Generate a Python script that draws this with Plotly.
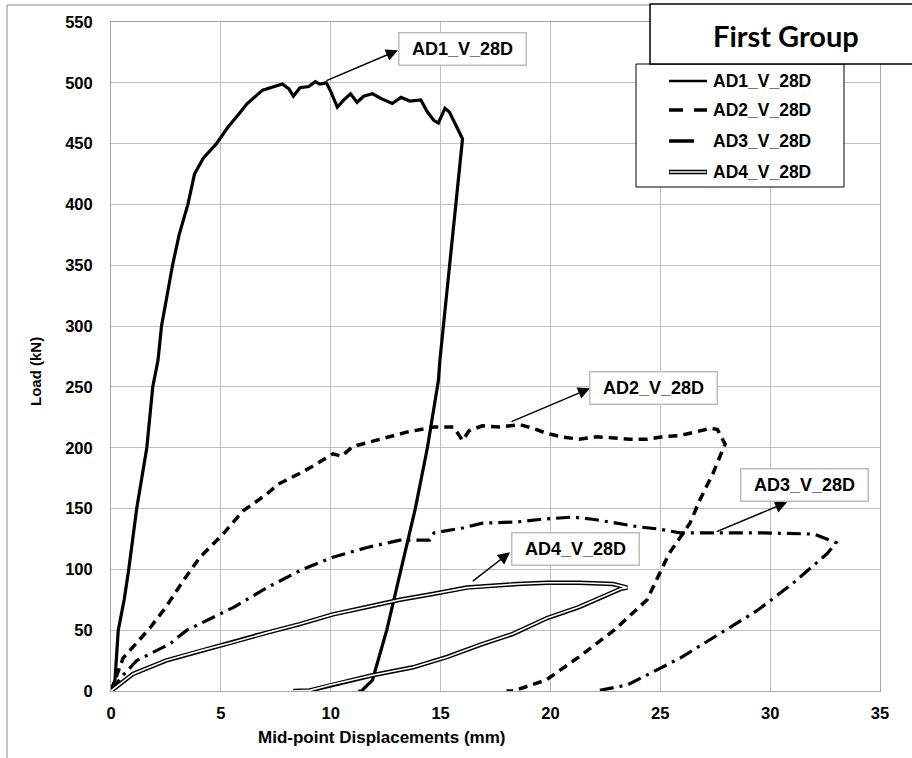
import plotly.graph_objects as go

# ---------------- data ----------------
ad1_x = [0, 0.18, 0.33, 0.6, 0.8, 1.17, 1.63, 1.9, 2.14, 2.3, 2.55, 2.8, 3.1, 3.5, 3.8, 4.2, 4.8, 5.3, 5.8,
         6.2, 6.9, 7.4, 7.8, 8.1, 8.3, 8.6, 9.0, 9.3, 9.5, 9.8, 10.0, 10.3, 10.6, 10.9, 11.2, 11.5, 11.9,
         12.3, 12.8, 13.2, 13.6, 14.1, 14.4, 14.7, 14.9, 15.2, 15.4, 16.0,
         15.69, 15.41, 15.13, 14.97, 14.9, 14.4, 13.85, 13.2, 12.55, 11.9, 11.4, 11.25]
ad1_y = [0, 9, 50, 75, 99, 150, 200, 250, 272, 300, 325, 350, 375, 400, 425, 438, 450, 463, 474,
         483, 494, 497, 499, 495, 489, 496, 497, 501, 499, 500, 493, 480, 486, 491, 484, 489, 491,
         487, 483, 488, 485, 486, 476, 469, 467, 479, 476, 454,
         400, 350, 300, 272, 255, 200, 150, 99, 50, 9, 0, 0]

ad2_x = [0, 0.55, 1.78, 2.5, 3.3, 4.05, 5.1, 6.0, 7.1, 7.6, 8.6, 9.2, 10.1, 10.5, 11.0, 11.8, 12.6, 13.5,
         14.7, 15.6, 16.0, 16.3, 16.9, 17.7, 18.6, 19.2, 19.8, 20.5, 21.3, 22.1, 22.9, 23.6, 24.4, 25.1,
         25.9, 26.4, 26.9, 27.3, 27.6, 27.95, 27.4, 26.8, 26.35, 25.4, 24.4, 22.9, 21.3, 19.8, 18.3, 18.0]
ad2_y = [0, 27, 52, 69, 91, 110, 129, 148, 162, 170, 179, 185, 195, 193, 201, 205, 209, 213,
         217, 217, 206, 214, 218, 217, 219, 216, 212, 209, 207, 209, 208, 207, 207, 209,
         210, 212, 214, 216, 215, 203, 179, 157, 138, 113, 75, 50, 28, 9, 0, 0]

ad3_x = [0, 0.5, 1.17, 2.7, 3.45, 4.65, 5.6, 7.1, 8.6, 10.1, 11.65, 13.15, 14.5, 14.7, 16.0, 16.9, 18.5,
         19.5, 21.0, 22.0, 23.0, 24.0, 25.0, 25.9, 27.6, 29.7, 32.0, 33.0,
         32.6, 31.0, 29.4, 27.4, 25.9, 23.5, 22.1]
ad3_y = [0, 12, 25, 39, 50, 61, 69, 85, 99, 110, 118, 124, 124, 130, 134, 138, 139,
         141, 143, 141, 138, 135, 133, 130, 130, 130, 129, 122,
         113, 88, 66, 44, 27, 5, 0]

ad4_x = [0, 1.0, 2.5, 4.05, 5.55, 7.1, 8.6, 10.1, 11.65, 13.15, 14.7, 16.2, 18.5, 19.85, 21.3, 22.85, 23.5,
         23.2, 21.3, 19.85, 18.3, 16.8, 15.3, 13.75, 11.9, 9.97, 9.05, 8.3]
ad4_y = [0, 14, 25, 33, 40, 48, 55, 63, 69, 75, 80, 85, 88, 89, 89, 88, 85,
         84, 69, 60, 47, 38, 28, 19.5, 13, 5, 0.5, 0]

series_names = ["AD1_V_28D", "AD2_V_28D", "AD3_V_28D", "AD4_V_28D"]

# label boxes (centre) and arrows (tail on curve -> head at box), data coordinates
label_x = [15.98, 24.69, 31.57, 21.12]
label_y = [527.6, 248.9, 169.5, 116.9]
arrow_tail_x = [9.74, 18.16, 27.5, 16.4]
arrow_tail_y = [501.3, 220.9, 130.5, 89.3]
arrow_head_x = [13.06, 21.8, 30.77, 18.16]
arrow_head_y = [526.8, 248.8, 155.2, 114.0]

x_ticks = [0, 5, 10, 15, 20, 25, 30, 35]
y_ticks = [0, 50, 100, 150, 200, 250, 300, 350, 400, 450, 500, 550]

FONT = "Liberation Sans, Arial, sans-serif"

fig = go.Figure()
fig.add_trace(go.Scatter(x=ad1_x, y=ad1_y, mode="lines", name=series_names[0],
                         line=dict(color="black", width=3.2), showlegend=False))
fig.add_trace(go.Scatter(x=ad2_x, y=ad2_y, mode="lines", name=series_names[1],
                         line=dict(color="black", width=3.5, dash="9px,6px"), showlegend=False))
fig.add_trace(go.Scatter(x=ad3_x, y=ad3_y, mode="lines", name=series_names[2],
                         line=dict(color="black", width=3.2, dash="14px,6px,3px,6px"), showlegend=False))
# double line: black outline + white core
fig.add_trace(go.Scatter(x=ad4_x, y=ad4_y, mode="lines", name=series_names[3],
                         line=dict(color="black", width=4.5), showlegend=False))
fig.add_trace(go.Scatter(x=ad4_x, y=ad4_y, mode="lines", name=series_names[3] + " core",
                         line=dict(color="white", width=1.6), showlegend=False, hoverinfo="skip"))

annotations = []
for i in range(4):
    annotations.append(dict(x=arrow_head_x[i], y=arrow_head_y[i], ax=arrow_tail_x[i], ay=arrow_tail_y[i],
                            xref="x", yref="y", axref="x", ayref="y", text="", showarrow=True,
                            arrowhead=2, arrowsize=1.6, arrowwidth=1.5, arrowcolor="black", standoff=0))
    annotations.append(dict(x=label_x[i], y=label_y[i], xref="x", yref="y", text="<b>%s</b>" % series_names[i],
                            showarrow=False, font=dict(family=FONT, size=18, color="black"),
                            bgcolor="white", bordercolor="#bdbdbd", borderwidth=1.5, borderpad=2,
                            width=122, height=27, align="center", valign="middle"))

# plot area: x 111..880 px, y 22..691 px
def px_x(p):
    return (p - 111) / 769.0

def px_y(p):
    return (691 - p) / 669.0

shapes = []
# outer chart border (only left / top visible)
shapes.append(dict(type="rect", xref="paper", yref="paper", x0=px_x(7), x1=px_x(1000), y0=px_y(800), y1=px_y(5),
                   line=dict(color="#8c8c8c", width=1), fillcolor="rgba(0,0,0,0)", layer="below"))
# legend box
shapes.append(dict(type="rect", xref="paper", yref="paper", x0=px_x(636), x1=px_x(844), y0=px_y(187), y1=px_y(64),
                   line=dict(color="black", width=1), fillcolor="white", layer="above"))
# title box
shapes.append(dict(type="rect", xref="paper", yref="paper", x0=px_x(650), x1=px_x(930), y0=px_y(64), y1=px_y(4),
                   line=dict(color="black", width=1.5), fillcolor="white", layer="above"))

leg_y = [81, 110, 141, 172]
lx0, lx1 = px_x(669), px_x(707)
shapes.append(dict(type="line", xref="paper", yref="paper", x0=lx0, x1=lx1, y0=px_y(leg_y[0]), y1=px_y(leg_y[0]),
                   line=dict(color="black", width=2.5), layer="above"))
shapes.append(dict(type="line", xref="paper", yref="paper", x0=lx0, x1=lx1, y0=px_y(leg_y[1]), y1=px_y(leg_y[1]),
                   line=dict(color="black", width=3.5, dash="14px,11px"), layer="above"))
shapes.append(dict(type="line", xref="paper", yref="paper", x0=lx0, x1=px_x(694), y0=px_y(leg_y[2]), y1=px_y(leg_y[2]),
                   line=dict(color="black", width=3.5), layer="above"))
shapes.append(dict(type="line", xref="paper", yref="paper", x0=lx0, x1=lx1, y0=px_y(leg_y[3]), y1=px_y(leg_y[3]),
                   line=dict(color="black", width=4.5), layer="above"))
shapes.append(dict(type="line", xref="paper", yref="paper", x0=lx0 + 0.001, x1=lx1 - 0.001, y0=px_y(leg_y[3]), y1=px_y(leg_y[3]),
                   line=dict(color="white", width=1.6), layer="above"))

for i in range(4):
    annotations.append(dict(x=px_x(711), y=px_y(leg_y[i]), xref="paper", yref="paper", xanchor="left",
                            yanchor="middle", text="<b>%s</b>" % series_names[i], showarrow=False,
                            font=dict(family=FONT, size=17.5, color="black")))

annotations.append(dict(x=px_x(786), y=px_y(36), xref="paper", yref="paper", xanchor="center", yanchor="middle",
                        text="<b>First Group</b>", showarrow=False,
                        font=dict(family="Lato, Open Sans, sans-serif", size=29, color="black")))

# axis titles
annotations.append(dict(x=px_x(381), y=px_y(738), xref="paper", yref="paper", xanchor="center", yanchor="middle",
                        text="<b>Mid-point Displacements (mm)</b>", showarrow=False,
                        font=dict(family=FONT, size=17, color="black")))
annotations.append(dict(x=px_x(35), y=px_y(372), xref="paper", yref="paper", xanchor="center", yanchor="middle",
                        text="<b>Load (kN)</b>", showarrow=False, textangle=-90,
                        font=dict(family=FONT, size=15, color="black")))

fig.update_layout(
    width=912, height=758,
    margin=dict(l=111, r=32, t=22, b=67),
    paper_bgcolor="white", plot_bgcolor="white",
    font=dict(family=FONT, color="black"),
    showlegend=False,
    shapes=shapes,
    annotations=annotations,
)
fig.update_xaxes(range=[0, 35], tickvals=x_ticks, ticktext=[str(v) for v in x_ticks],
                 showgrid=True, gridcolor="#c0c0c0", gridwidth=1,
                 showline=True, linecolor="#a6a6a6", linewidth=1, mirror=True, zeroline=False,
                 ticks="", ticklabelstandoff=7,
                 tickfont=dict(family=FONT, size=16.5, color="black", weight="bold"))
fig.update_yaxes(range=[0, 550], tickvals=y_ticks, ticktext=[str(v) for v in y_ticks],
                 showgrid=True, gridcolor="#c0c0c0", gridwidth=1,
                 showline=True, linecolor="#a6a6a6", linewidth=1, mirror=True, zeroline=False,
                 ticks="", ticklabelstandoff=14,
                 tickfont=dict(family=FONT, size=16.5, color="black", weight="bold"))

fig.write_html("out.html")
